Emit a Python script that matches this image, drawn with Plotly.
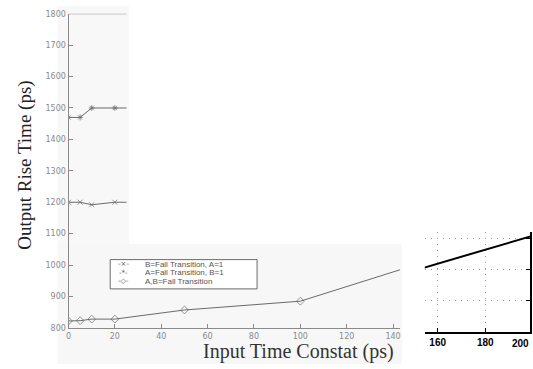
import plotly.graph_objects as go

W, H = 533, 369

# ---------------- data ----------------
x_tick_vals = [0, 20, 40, 60, 80, 100, 120, 140]
y_tick_vals = [800, 900, 1000, 1100, 1200, 1300, 1400, 1500, 1600, 1700, 1800]

b_fall_x = [0, 5, 10, 20, 25]
b_fall_y = [1200, 1200, 1192, 1200, 1200]

a_fall_x = [0, 5, 10, 20, 25]
a_fall_y = [1470, 1470, 1500, 1500, 1500]

ab_fall_x = [0, 5, 10, 20, 50, 100, 143]
ab_fall_y = [822, 823, 828, 828, 857, 885, 985]

legend_labels = ["B=Fall Transition, A=1", "A=Fall Transition, B=1", "A,B=Fall Transition"]
legend_symbols = ["-×-", "-*-", "-◇-"]

inset_x = [150, 200]
inset_y = [1.96, 3.08]
inset_ticks = [160, 180]


def px(x):
    return x / W


def py(y):
    return 1 - y / H


line_col = "#6a6a6a"
fig = go.Figure()


def sizes(xs, s):
    # the last point only continues the line (no symbol drawn there)
    return [s] * (len(xs) - 1) + [0]


fig.add_trace(go.Scatter(x=b_fall_x, y=b_fall_y, mode="lines+markers", name=legend_labels[0],
                         line=dict(color=line_col, width=1),
                         marker=dict(symbol="x-thin-open", size=sizes(b_fall_x, 5), color=line_col,
                                     line=dict(width=1, color=line_col)),
                         showlegend=False, xaxis="x", yaxis="y"))
fig.add_trace(go.Scatter(x=a_fall_x, y=a_fall_y, mode="lines+markers", name=legend_labels[1],
                         line=dict(color=line_col, width=1),
                         marker=dict(symbol="asterisk-open", size=sizes(a_fall_x, 5), color=line_col,
                                     line=dict(width=1, color=line_col)),
                         showlegend=False, xaxis="x", yaxis="y"))
fig.add_trace(go.Scatter(x=ab_fall_x, y=ab_fall_y, mode="lines+markers", name=legend_labels[2],
                         line=dict(color=line_col, width=1),
                         marker=dict(symbol="diamond-open", size=sizes(ab_fall_x, 6), color=line_col,
                                     line=dict(width=1, color=line_col)),
                         showlegend=False, xaxis="x", yaxis="y"))

fig.add_trace(go.Scatter(x=inset_x, y=inset_y, mode="lines+markers",
                         line=dict(color="black", width=2),
                         marker=dict(symbol="triangle-up", size=[0, 8], color="black"),
                         showlegend=False, xaxis="x2", yaxis="y2", cliponaxis=False))

tick_font = dict(family="DejaVu Sans", size=8, color="#8a8a8a")

fig.update_layout(
    width=W, height=H,
    margin=dict(l=0, r=0, t=0, b=0),
    paper_bgcolor="white", plot_bgcolor="rgba(0,0,0,0)",
    showlegend=False,
    xaxis=dict(domain=[px(66), px(400)], range=[0, 143], tickvals=x_tick_vals,
               showgrid=False, zeroline=False, showline=True, linecolor="#8a8a8a", linewidth=1,
               ticks="inside", ticklen=4, tickcolor="#8a8a8a", tickfont=tick_font, anchor="y"),
    yaxis=dict(domain=[py(332), py(10)], range=[800, 1800], tickvals=y_tick_vals,
               showgrid=False, zeroline=False, showline=True, linecolor="#8a8a8a", linewidth=1,
               ticks="inside", ticklen=4, tickcolor="#8a8a8a", tickfont=tick_font, anchor="x"),
    xaxis2=dict(domain=[px(425), px(531)], range=[154.6, 198.8], tickvals=inset_ticks,
                showgrid=True, gridcolor="#9a9a9a", griddash="1px,5px", gridwidth=1,
                zeroline=False, showline=True, linecolor="black", linewidth=2,
                ticks="inside", ticklen=4, tickcolor="black",
                tickfont=dict(family="Liberation Sans", size=10, color="black", weight="bold"),
                anchor="y2"),
    yaxis2=dict(domain=[py(336), py(234)], range=[0, 3.19], tickvals=[1, 2, 3],
                showticklabels=False, side="right",
                showgrid=True, gridcolor="#9a9a9a", griddash="1px,5px", gridwidth=1,
                zeroline=False, showline=True, linecolor="black", linewidth=2,
                ticks="inside", ticklen=4, tickcolor="black", anchor="x2"),
)

shapes = [
    # faint scanned tint
    dict(type="rect", xref="paper", yref="paper", x0=px(55), x1=px(402), y0=py(369), y1=py(246),
         fillcolor="#f7f7f7", line=dict(width=0), layer="below"),
    dict(type="rect", xref="paper", yref="paper", x0=px(55), x1=px(127), y0=py(246), y1=py(2),
         fillcolor="#f8f8f8", line=dict(width=0), layer="below"),
    # visible piece of top frame
    dict(type="line", xref="x", yref="y", x0=0, x1=25, y0=1800, y1=1800,
         line=dict(color="#8a8a8a", width=1)),
    # legend box
    dict(type="rect", xref="paper", yref="paper", x0=px(108), x1=px(256), y0=py(292), y1=py(262),
         fillcolor="white", line=dict(color="#6a6a6a", width=1)),
]

annotations = []
rows = [267, 275.5, 284]
for lab, sym, r in zip(legend_labels, legend_symbols, rows):
    annotations.append(dict(xref="paper", yref="paper", x=px(121), y=py(r), text=sym, showarrow=False,
                            xanchor="center", yanchor="middle",
                            font=dict(family="DejaVu Sans", size=7, color="#555")))
    annotations.append(dict(xref="paper", yref="paper", x=px(141), y=py(r), text=lab, showarrow=False,
                            xanchor="left", yanchor="middle",
                            font=dict(family="Liberation Sans", size=8, color="#555")))

annotations.append(dict(xref="paper", yref="paper", x=px(22), y=py(165), text="Output Rise Time (ps)",
                        textangle=-90, showarrow=False, xanchor="center", yanchor="middle",
                        font=dict(family="Liberation Serif", size=19, color="#222")))
annotations.append(dict(xref="paper", yref="paper", x=px(298), y=0, text="Input Time Constat (ps)",
                        showarrow=False, xanchor="center", yanchor="bottom", borderpad=0,
                        font=dict(family="Liberation Serif", size=20, color="#333")))
annotations.append(dict(xref="paper", yref="paper", x=px(531), y=py(348), text="200",
                        showarrow=False, xanchor="right", yanchor="middle", borderpad=0,
                        font=dict(family="Liberation Sans", size=10, color="black", weight="bold")))

fig.update_layout(shapes=shapes, annotations=annotations)

fig.write_html("out.html", config={"displayModeBar": False},
               post_script="document.body.style.margin='0';document.body.style.overflow='hidden';")
